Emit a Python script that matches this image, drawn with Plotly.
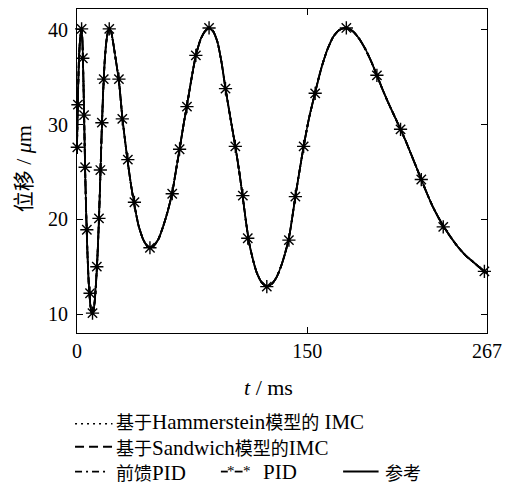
import plotly.graph_objects as go

# ---------------- data ----------------
t_ms = [0, 0.5, 1.2, 2.0, 3.0, 3.6, 4.2, 4.8, 5.4, 6.1, 6.9, 7.8, 8.8, 9.8, 10.6, 11.5,
        12.4, 13.3, 14.2, 15.1, 16.0, 17.0, 18.0, 19.0, 20.0, 21.0, 22.2, 23.6, 25.3, 27.3,
        29.5, 31.3, 33.1, 35.2, 37.4, 40, 43, 45.5, 47.5, 50, 53, 56, 59, 62, 64.5, 67,
        69.5, 71.6, 74.5, 77.4, 80.5, 83.5, 86, 88.5, 91.5, 94.2, 96.7, 99.8, 103.1, 105.5,
        108, 110, 112, 114.5, 117, 120, 123.6, 127, 130, 133, 135.5, 138, 140, 142.2, 145,
        147.6, 151, 155.1, 159, 163, 167, 171, 175.4, 180, 184, 188, 191.5, 195.3, 199, 203,
        207, 210.7, 214, 217.5, 221, 224.2, 228, 231.5, 235, 238.5, 243, 248, 253, 258, 263, 267]
ref_um = [27.5, 32.1, 36.5, 39.0, 40.1, 38.5, 34.5, 29.5, 24.5, 20.0, 16.0, 12.8, 10.8, 10.0, 10.2, 11.3,
          13.3, 16.0, 19.6, 24.0, 28.8, 33.3, 36.6, 38.6, 39.7, 40.1, 39.8, 38.6, 36.8, 34.6,
          30.8, 28.3, 26.0, 23.6, 21.5, 19.4, 17.9, 17.2, 17.0, 17.2, 17.9, 19.2, 20.8, 22.8, 25.2, 27.6,
          30.1, 32.0, 34.8, 37.3, 39.0, 39.9, 40.2, 39.9, 38.7, 36.5, 33.8, 30.8, 27.7, 25.2,
          22.3, 19.8, 17.6, 15.8, 14.4, 13.4, 12.9, 13.2, 13.9, 15.1, 16.4, 18.0, 20.0, 22.4, 25.2,
          27.7, 30.6, 33.4, 35.9, 37.9, 39.3, 40.0, 40.2, 39.8, 39.0, 37.9, 36.7, 35.2, 33.7, 32.2,
          30.8, 29.5, 28.3, 26.9, 25.5, 24.2, 22.7, 21.4, 20.3, 19.3, 18.2, 17.1, 16.2, 15.5, 14.8, 14.3]

# the controllers track the reference almost exactly
hammerstein_imc_um = list(ref_um)
sandwich_imc_um = list(ref_um)
ff_pid_um = list(ref_um)
pid_um = list(ref_um)

# PID marker positions
pid_star_t = [0.2, 0.6, 3.0, 3.8, 4.6, 5.3, 6.4, 8.5, 10.1, 12.9, 14.3, 15.2, 16.2, 17.4, 21.0,
              27.3, 29.5, 33.1, 37.4, 47.5, 62.0, 66.8, 71.6, 77.4, 86.0, 96.7, 103.1, 108.0,
              111.2, 123.6, 138.0, 142.2, 147.6, 155.1, 175.4, 195.3, 210.7, 224.2, 238.5, 265.3]
pid_star_um = [27.6, 32.1, 40.1, 37.0, 31.0, 25.5, 18.9, 12.2, 10.1, 15.0, 20.1, 25.2, 30.2, 34.8, 40.1,
               34.8, 30.6, 26.3, 21.8, 17.0, 22.7, 27.4, 31.9, 37.3, 40.2, 33.8, 27.7, 22.5,
               18.0, 12.9, 17.8, 22.4, 27.7, 33.3, 40.2, 35.2, 29.5, 24.2, 19.2, 14.5]

x_ticks = [0, 150, 267]
y_ticks = [10, 20, 30, 40]

# ---------------- figure ----------------
W, H = 510, 484
L, R, T, B = 77, 17, 8, 151
SERIF = "Liberation Serif"
CJK = "Noto Sans CJK SC"

def cjk(s, size):
    return f'<span style="font-family:{CJK};font-size:{size}px">{s}</span>'

legend_labels = [cjk("基于", 18) + "Hammerstein" + cjk("模型的", 18) + " IMC",
                 cjk("基于", 18) + "Sandwich" + cjk("模型的", 18) + "IMC",
                 cjk("前馈", 18) + "PID",
                 "PID",
                 cjk("参考", 18)]
x_title = "<i>t</i> / ms"
y_title = cjk("位移", 21) + " / <i>μ</i>m"

fig = go.Figure()
lw = 1.8
fig.add_trace(go.Scatter(x=t_ms, y=hammerstein_imc_um, mode="lines", line=dict(color="black", width=lw, dash="dot", shape="spline", smoothing=0.6), showlegend=False))
fig.add_trace(go.Scatter(x=t_ms, y=sandwich_imc_um, mode="lines", line=dict(color="black", width=lw, dash="6px,3px", shape="spline", smoothing=0.6), showlegend=False))
fig.add_trace(go.Scatter(x=t_ms, y=ff_pid_um, mode="lines", line=dict(color="black", width=lw, dash="8px,3px,2px,3px", shape="spline", smoothing=0.6), showlegend=False))
fig.add_trace(go.Scatter(x=t_ms, y=pid_um, mode="lines", line=dict(color="black", width=lw, dash="5px,3px", shape="spline", smoothing=0.6), showlegend=False))
fig.add_trace(go.Scatter(x=t_ms, y=ref_um, mode="lines", line=dict(color="black", width=1.6, shape="spline", smoothing=0.6), showlegend=False))
fig.add_trace(go.Scatter(x=pid_star_t, y=pid_star_um, mode="markers",
                         marker=dict(symbol="asterisk-open", size=11, color="black", line=dict(color="black", width=1.4)),
                         showlegend=False, cliponaxis=False))

axis_common = dict(showline=True, linecolor="black", linewidth=1.2, mirror="ticks", ticks="inside",
                   ticklen=6, tickwidth=1, tickcolor="black", showgrid=False, zeroline=False,
                   tickfont=dict(family=SERIF, size=20, color="black"))
fig.update_xaxes(range=[0, 267], tickvals=x_ticks, ticktext=[str(v) for v in x_ticks], **axis_common)
fig.update_yaxes(range=[8.0, 42.2], tickvals=y_ticks, ticktext=[str(v) for v in y_ticks], ticklabelstandoff=4, **axis_common)

pw = W - L - R
ph = H - T - B
def px(xp):
    return (xp - L) / pw
def py(yp):
    return (H - B - yp) / ph

ann = []
shapes = []
ann.append(dict(x=px(271), y=py(388), xref="paper", yref="paper", text=x_title, showarrow=False,
                font=dict(family=SERIF, size=22, color="black"), xanchor="center", yanchor="middle"))
ann.append(dict(x=px(21), y=py(168), xref="paper", yref="paper", text=y_title, showarrow=False, textangle=-90,
                font=dict(family=SERIF, size=22, color="black"), xanchor="center", yanchor="middle"))

rows = [421, 447, 472]
def seg(x0, x1, yrow, dash, width=1.6):
    shapes.append(dict(type="line", xref="paper", yref="paper", x0=px(x0), x1=px(x1), y0=py(yrow), y1=py(yrow),
                       line=dict(color="black", width=width, dash=dash)))
def label(x, yrow, text):
    ann.append(dict(x=px(x), y=py(yrow), xref="paper", yref="paper", text=text, showarrow=False,
                    font=dict(family=SERIF, size=21, color="black"), xanchor="left", yanchor="middle"))

seg(75, 113, rows[0] + 3, "2px,4px", 1.6)
label(115, rows[0], legend_labels[0])
seg(75, 113, rows[1], "9px,5px", 2)
label(115, rows[1], legend_labels[1])
seg(75, 107, rows[2], "7px,4px,2px,4px", 1.8)
label(115, rows[2], legend_labels[2])
seg(223, 230, rows[2], "solid", 1.8)
seg(237, 245, rows[2], "solid", 1.8)
for xs in (233.5, 249.5):
    ann.append(dict(x=px(xs), y=py(rows[2] - 1), xref="paper", yref="paper", text="*", showarrow=False,
                    font=dict(family=SERIF, size=15, color="black"), xanchor="center", yanchor="middle"))
label(264, rows[2], legend_labels[3])
seg(347, 383, rows[2], "solid", 2)
label(387, rows[2], legend_labels[4])

fig.update_layout(width=W, height=H, margin=dict(l=L, r=R, t=T, b=B), paper_bgcolor="white", plot_bgcolor="white",
                  annotations=ann, shapes=shapes, showlegend=False)
fig.write_html("out.html", config={"displayModeBar": False},
               post_script="document.body.style.margin='0px';document.body.style.overflow='hidden';")
